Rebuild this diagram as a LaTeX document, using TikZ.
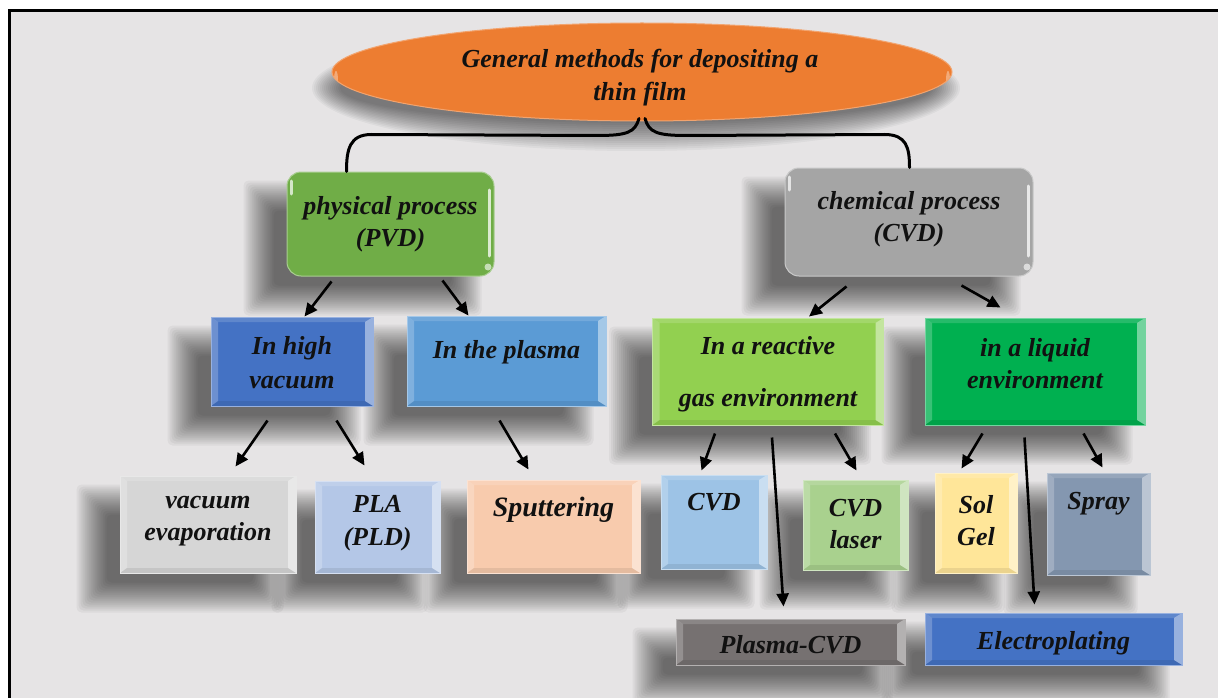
\documentclass[tikz,border=0pt]{standalone}
\usepackage{fontspec}
\setmainfont{Liberation Serif}
\usetikzlibrary{shapes.geometric,arrows.meta,calc}
\pgfdeclarelayer{bglayer}
\pgfdeclarelayer{shadowlayer}
\pgfsetlayers{bglayer,shadowlayer,main}
\definecolor{cBg}{HTML}{E6E4E5}
\definecolor{cOrange}{HTML}{ED7D31}
\definecolor{cPvd}{HTML}{70AD47}
\definecolor{cCvd}{HTML}{A5A5A5}
\definecolor{cHv}{HTML}{4472C4}
\definecolor{cPl}{HTML}{5B9BD5}
\definecolor{cRg}{HTML}{92D050}
\definecolor{cLq}{HTML}{00B050}
\definecolor{cVe}{HTML}{D6D6D6}
\definecolor{cPla}{HTML}{B4C7E7}
\definecolor{cSp}{HTML}{F8CBAD}
\definecolor{cCv}{HTML}{9DC3E6}
\definecolor{cCvl}{HTML}{A9D18E}
\definecolor{cSg}{HTML}{FFE699}
\definecolor{cSpr}{HTML}{8497B0}
\definecolor{cPcvd}{HTML}{767171}
\definecolor{cElp}{HTML}{4472C4}
\definecolor{cTxt}{HTML}{111111}
\newcommand\mkshadow[1]{%
  \begin{pgfonlayer}{shadowlayer}
  \foreach \e in {15,13,...,-15} {
    \fill[black,opacity=.045,rounded corners=5pt] ($(#1.north west)+({-28-(\e)},{24-(\e)})$) rectangle ($(#1.south east)+({-28+(\e)},{24+(\e)})$);
  }
  \end{pgfonlayer}}
\tikzset{
  bevel/.style={rectangle, inner sep=0pt, fill=#1, draw=#1!55!white, line width=1pt,
    path picture={
      \fill[white,opacity=.22] (path picture bounding box.north west) -- ([shift={(7pt,-5pt)}]path picture bounding box.north west) -- ([shift={(7pt,5pt)}]path picture bounding box.south west) -- (path picture bounding box.south west) -- cycle;
      \fill[white,opacity=.45] (path picture bounding box.north east) -- ([shift={(-8pt,-5pt)}]path picture bounding box.north east) -- ([shift={(-8pt,5pt)}]path picture bounding box.south east) -- (path picture bounding box.south east) -- cycle;
      \fill[white,opacity=.15] (path picture bounding box.north west) -- (path picture bounding box.north east) -- ([shift={(-8pt,-5pt)}]path picture bounding box.north east) -- ([shift={(7pt,-5pt)}]path picture bounding box.north west) -- cycle;
      \fill[black,opacity=.08] (path picture bounding box.south west) -- (path picture bounding box.south east) -- ([shift={(-8pt,5pt)}]path picture bounding box.south east) -- ([shift={(7pt,5pt)}]path picture bounding box.south west) -- cycle;
    }},
  rbox/.style={rectangle, rounded corners=14pt, inner sep=0pt, fill=#1, draw=#1!60!white, line width=1pt,
    path picture={
      \draw[white,opacity=.75,line width=3pt,line cap=round] ([shift={(-4.5pt,-18pt)}]path picture bounding box.north east) -- ([shift={(-4.5pt,20pt)}]path picture bounding box.south east);
      \draw[white,opacity=.7,line width=3pt,line cap=round] ([shift={(4.5pt,-9pt)}]path picture bounding box.north west) -- ([shift={(4.5pt,-22pt)}]path picture bounding box.north west);
      \fill[white,opacity=.6] ([shift={(-6pt,9pt)}]path picture bounding box.south east) circle (3.5pt);
    }},
  oval/.style={ellipse, inner sep=0pt, fill=cOrange, draw=cOrange!70!white, line width=1pt,
    path picture={
      \fill[white,opacity=.35] ([xshift=4pt,yshift=-8pt]path picture bounding box.west) ellipse (2pt and 9pt);
      \fill[white,opacity=.35] ([xshift=-4pt,yshift=-8pt]path picture bounding box.east) ellipse (2pt and 9pt);
    }},
  txt/.style={font=\fontsize{26}{32}\selectfont\bfseries\itshape, align=center, text=cTxt, inner sep=0pt},
  arr/.style={line width=2.6pt, -{Triangle[length=13pt,width=12pt]}},
  brace/.style={line width=3pt, line cap=round}
}
\begin{document}
\begin{tikzpicture}[x=1pt,y=-1pt]
\useasboundingbox (0,0) rectangle (1218,698);
\clip (0,0) rectangle (1218,698);
\begin{pgfonlayer}{bglayer}
\fill[white] (0,0) rectangle (1218,698);
\draw[line width=3pt, fill=cBg] (9,11) rectangle (1240,720);
\end{pgfonlayer}

% top ellipse
\node[oval, minimum width=620pt, minimum height=98pt] (root) at (642,72) {};
\begin{pgfonlayer}{shadowlayer}
\foreach \e in {14,12,...,-14} {
  \fill[black,opacity=.04] ($(root.center)+(-6,16)$) ellipse ({310+(\e)} and {49+(\e)});
}
\end{pgfonlayer}
\node[txt] (troot) at (640,78) {General methods for depositing a\\[1pt]thin film};

% level 1
\node[rbox=cPvd, minimum width=207pt, minimum height=104pt] (pvd) at (390.5,224) {};
\node[rbox=cCvd, minimum width=248pt, minimum height=108pt] (cvd) at (909,222) {};
\mkshadow{pvd}\mkshadow{cvd}
\node[txt] (tpvd) at ($(pvd.center)+(0,0)$) {physical process\\(PVD)};
\node[txt] (tcvd) at ($(cvd.center)+(0,-3)$) {chemical process\\(CVD)};

% level 2
\node[bevel=cHv, minimum width=162pt, minimum height=89pt] (hv) at (292,361.5) {};
\node[bevel=cPl, minimum width=199pt, minimum height=90pt] (pl) at (506.5,361) {};
\node[bevel=cRg, minimum width=231pt, minimum height=107pt] (rg) at (768,371.5) {};
\node[bevel=cLq, minimum width=220pt, minimum height=107pt] (lq) at (1035,371.5) {};
\mkshadow{hv}\mkshadow{pl}\mkshadow{rg}\mkshadow{lq}
\node[txt] (thv) at ($(hv.center)+(0,1)$) {In high\\[2pt]vacuum};
\node[txt] (tpl) at ($(pl.center)+(0,-9)$) {In the plasma};
\node[txt] (trg) at ($(rg.center)+(0,2.5)$) {In a reactive\\[20pt]gas environment};
\node[txt] (tlq) at ($(lq.center)+(0,-7.5)$) {in a liquid\\environment};

% level 3
\node[bevel=cVe, minimum width=176pt, minimum height=97pt] (ve) at (208,524.5) {};
\node[bevel=cPla, minimum width=125pt, minimum height=92pt] (pla) at (377.5,527) {};
\node[bevel=cSp, minimum width=173pt, minimum height=93pt] (sp) at (553.5,526.5) {};
\node[bevel=cCv, minimum width=106pt, minimum height=94pt] (cv) at (714,522) {};
\node[bevel=cCvl, minimum width=105pt, minimum height=90pt] (cvl) at (855.5,525) {};
\node[bevel=cSg, minimum width=82pt, minimum height=100pt] (sg) at (976,523) {};
\node[bevel=cSpr, minimum width=103pt, minimum height=102pt] (spr) at (1098.5,524) {};
\mkshadow{ve}\mkshadow{pla}\mkshadow{sp}\mkshadow{cv}\mkshadow{cvl}\mkshadow{sg}\mkshadow{spr}
\node[txt] (tve) at ($(ve.center)+(0,-3.5)$) {vacuum\\evaporation};
\node[txt] (tpla) at ($(pla.center)+(0,-3.5)$) {PLA\\[1pt](PLD)};
\node[txt, font=\fontsize{28}{32}\selectfont\bfseries\itshape] (tsp) at ($(sp.center)+(0,-16.5)$) {Sputtering};
\node[txt] (tcv) at ($(cv.center)+(0,-20)$) {CVD};
\node[txt] (tcvl) at ($(cvl.center)+(0,-1)$) {CVD\\laser};
\node[txt] (tsg) at ($(sg.center)+(0,-2)$) {Sol\\Gel};
\node[txt] (tspr) at ($(spr.center)+(0,-20)$) {Spray};

% level 4
\node[bevel=cPcvd, minimum width=229pt, minimum height=46pt] (pcvd) at (790.5,642) {};
\node[bevel=cElp, minimum width=257pt, minimum height=52pt] (elp) at (1053.5,639) {};
\mkshadow{pcvd}\mkshadow{elp}
\node[txt] (tpcvd) at ($(pcvd.center)+(0,3)$) {Plasma-CVD};
\node[txt] (telp) at ($(elp.center)+(0,4)$) {Electroplating};

% brace
\draw[brace] ($(root.south)+(-3,-3)$) .. controls +(-4,14) and +(30,0) .. ($(root.south)+(-45,14)$)
  -- ($(pvd.north west)+(85,-37)$) .. controls +(-22,0) and +(0,-22) .. ($(pvd.north west)+(60,0)$);
\draw[brace] ($(root.south)+(3,-3)$) .. controls +(4,14) and +(-30,0) .. ($(root.south)+(45,14)$)
  -- ($(cvd.north west)+(100,-33)$) .. controls +(22,0) and +(0,-20) .. ($(cvd.north west)+(125,0)$);

% arrows
\draw[arr] ($(pvd.south west)+(45,5)$) -- ($(hv.north west)+(94,0)$);
\draw[arr] ($(pvd.south west)+(156,4)$) -- ($(pl.north west)+(62,0)$);
\draw[arr] ($(cvd.south west)+(62,10)$) -- ($(rg.north west)+(157,-1)$);
\draw[arr] ($(cvd.south west)+(177,9)$) -- ($(lq.north west)+(76,-10)$);
\draw[arr] ($(hv.south west)+(57,14)$) -- ($(ve.north west)+(116,-9)$);
\draw[arr] ($(hv.south west)+(126,14)$) -- ($(pla.north west)+(50,-15)$);
\draw[arr] ($(pl.south west)+(93,14)$) -- ($(sp.north west)+(62,-10)$);
\draw[arr] ($(rg.south west)+(63,8)$) -- ($(cv.north west)+(41,-4)$);
\draw[arr] ($(rg.south west)+(183,8)$) -- ($(cvl.north west)+(54,-9)$);
\draw[arr] ($(rg.south west)+(120,12)$) -- ($(pcvd.north west)+(108,-12)$);
\draw[arr] ($(lq.south west)+(58,8)$) -- ($(sg.north west)+(27,-4)$);
\draw[arr] ($(lq.south west)+(159,8)$) -- ($(spr.north west)+(56,-5)$);
\draw[arr] ($(lq.south west)+(100,12)$) -- ($(elp.north west)+(110,-8)$);
\end{tikzpicture}
\end{document}
